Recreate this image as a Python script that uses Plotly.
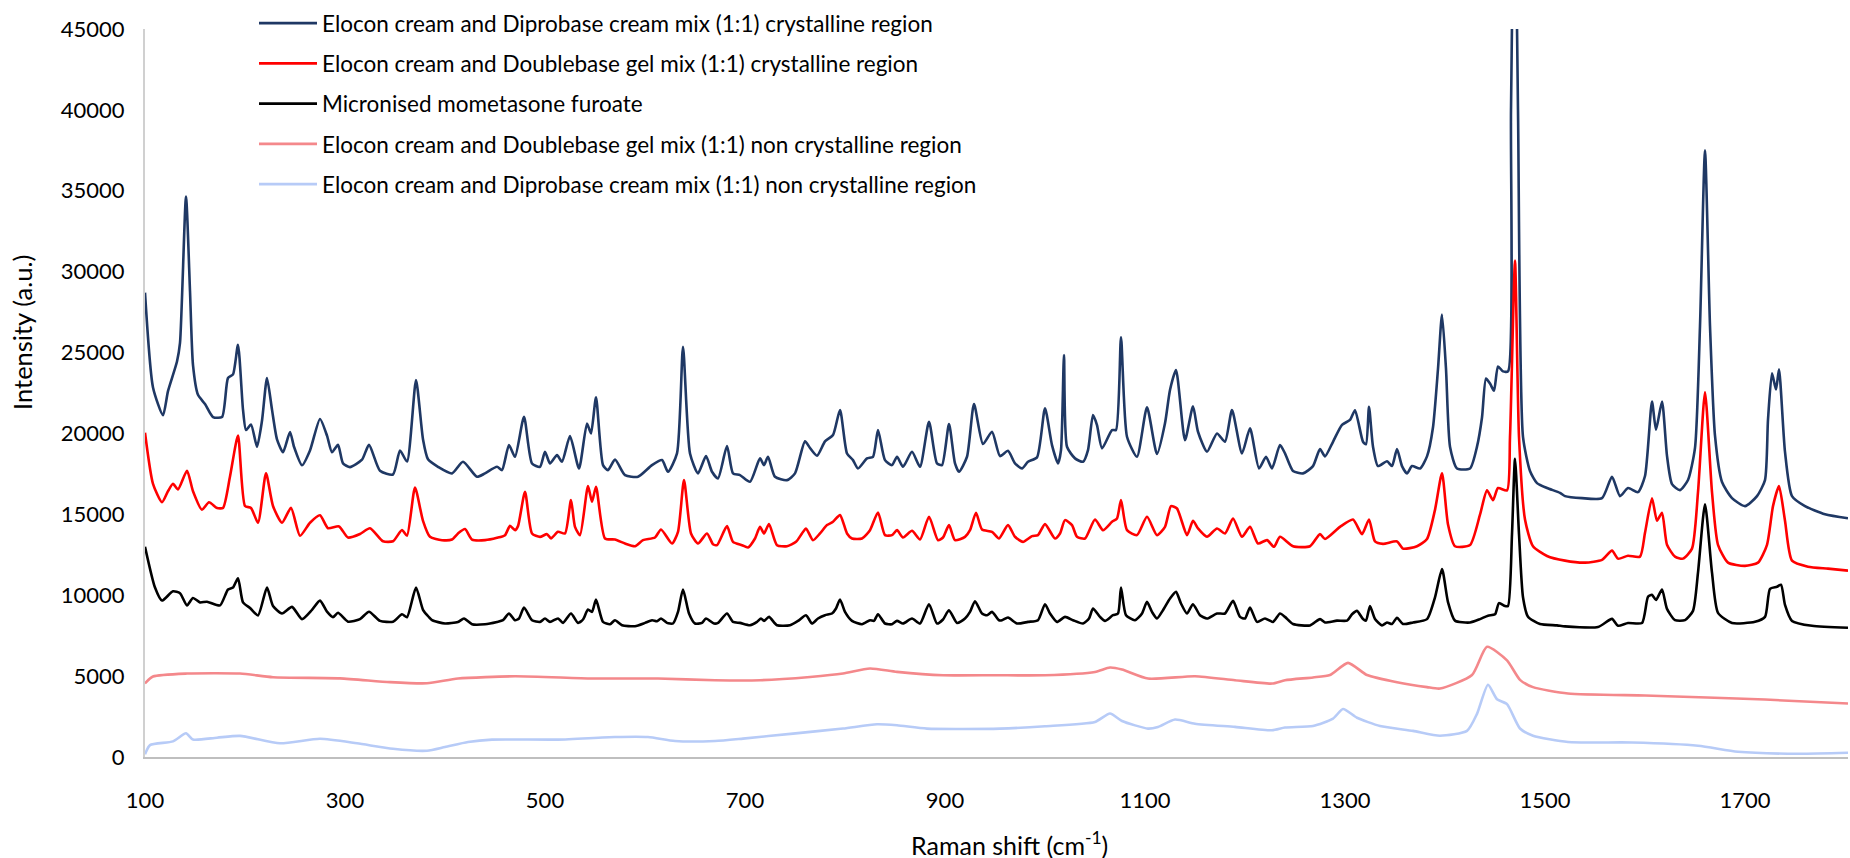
import plotly.graph_objects as go

# ---- Data (Raman shift cm-1, intensity a.u.) ----
navy_x = [100,108,118,123,132,135,141,145,148,153,160,168,177,183,188,193,198,201,206,212,217,222,227,232,238,245,249,257,265,275,282,287,293,298,305,317,324,335,348,355,362,371,378,383,
          393,407,418,432,440,452,457,464,470,479,487,495,500,505,512,517,525,534,542,546,551,558,563,570,580,593,607,617,623,632,638,645,653,661,667,
          673,682,688,695,705,715,719,723,730,742,750,760,765,772,780,788,795,802,808,813,822,828,833,840,847,852,858,867,875,884,892,897,904,910,914,922,929,938,947,
          955,963,970,977,983,992,1000,1007,1013,1016,1019,1022,1030,1038,1043,1048,1052,1057,1067,1071,1076,1082,1092,1102,1112,1120,1125,1131,1140,1148,1153,1162,1172,1180,1187,1197,1205,1214,1221,1227,1235,1240,
          1248,1258,1268,1275,1280,1288,1297,1305,1310,1318,1321,1324,1328,1333,1342,1347,1352,1357,1362,1367,1375,1382,1388,1393,1397,1401,1405,1412,1425,1432,1437,1441,1445,1449,1453,1458,1463,1466,1469.5,1473,1478,1485,1492,1502,1515,
          1520,1537,1557,1567,1575,1583,1593,1600,1607,1611,1617,1622,1627,1635,1643,1650,1655,1660,1665,1670,1677,1687,1700,1712,1720,1723,1727,1731,1734,1740,1747,1760,1780,1803]
navy_y = [28700,22845,21125,22616,24447,25592,34640,28808,24225,22387,21818,21014,21014,23424,23649,25480,21472,20210,20556,19177,20785,23424,21472,19635,18836,20093,19177,18033,18948,20897,19864,18836,19294,18150,17920,18378,19294,17692,17463,18948,18261,23300,19635,18400,
          17939,17531,18249,17321,17531,17939,17735,19282,18558,21032,18146,17939,18868,18146,18661,18249,19838,17838,20619,20000,22230,18043,17735,18394,17426,17321,18043,18352,17631,18764,25363,18764,17531,18601,17631,
          17221,19220,17531,17426,17011,18459,18043,18558,17321,17115,17531,19510,19100,18621,19510,19900,21447,18764,18352,17836,18455,18558,20210,18352,18043,18558,17939,18868,17939,20723,18146,18043,20580,18146,17631,18558,21818,19344,20105,
          18600,18929,18150,17841,18249,18521,21552,19282,18150,18973,24849,19177,18459,18249,18973,21138,20519,19077,20210,20210,25944,19795,18558,21614,18725,20624,22684,23921,19590,21676,20105,18868,20000,19487,21447,18766,20313,17841,18558,17841,19282,18766,
          17680,17531,17983,19034,18583,19486,20532,20835,21435,19486,19330,21645,19183,17983,18280,17983,19034,17983,17531,17983,17835,18583,20383,23990,27349,23990,19183,17835,17835,19183,20983,23389,23086,22635,24138,23835,23835,40000,56000,40000,19783,17680,16931,16628,16328,
          16127,16003,16003,17321,16127,16622,16375,17371,21972,20229,21972,18612,16870,16498,17119,19107,26642,37500,26642,19859,16995,16003,15507,16127,17119,20850,23712,22716,23965,18860,16127,15507,15008,14760]

red_x = [100,108,117,123,128,133,142,148,157,164,172,178,185,193,200,206,213,221,228,237,246,255,265,275,283,294,303,315,325,338,348,357,362,370,378,385,397,407,413,420,427,440,452,460,465,470,473,480,487,495,502,506,513,520,526,530,535,543,547,551,560,570,580,590,598,610,616,627,633,639,646,653,662,668,
         672,682,688,697,703,710,715,719,724,732,742,751,757,761,768,775,782,788,795,802,807,817,825,833,840,847,852,858,867,875,884,893,898,904,910,920,925,931,937,947,954,
         963,970,978,987,993,1000,1010,1015,1020,1027,1032,1040,1050,1058,1067,1072,1076,1082,1092,1102,1112,1120,1126,1132,1142,1148,1153,1162,1172,1180,1188,1197,1205,1213,1222,1229,1235,
         1248,1265,1275,1280,1295,1308,1317,1324,1330,1338,1352,1358,1372,1382,1390,1397,1403,1410,1425,1435,1442,1448,1453,1462,1465,1470,1474,1480,1488,1502,
         1520,1540,1557,1567,1573,1583,1595,1600,1607,1612,1617,1622,1630,1638,1647,1653,1660,1667,1673,1683,1700,1713,1722,1728,1734,1740,1747,1763,1783,1803]
red_y = [20050,16888,15744,16431,16888,16542,17692,16431,15285,15744,15397,15397,17339,19864,15512,15397,14482,17531,15512,14482,15397,13676,14482,14940,14141,14253,13566,13787,14141,13337,13337,14030,13676,16659,14600,13609,13403,13444,13819,14087,13444,13403,13548,13713,14290,14022,14270,16395,13819,13609,13775,13506,13919,13819,15879,14225,13713,16745,15775,16704,13506,13444,13197,13031,13403,13568,14063,13197,13919,17115,13819,13197,13819,13156,
         13094,14270,13300,13094,12949,13506,14225,13819,14395,13094,13031,13300,13819,14128,13403,13819,14333,14539,14952,13819,13506,13506,14022,15115,13713,13713,14022,13568,13981,13444,14848,13403,13568,14333,13403,13609,14022,15094,14063,13919,13506,
         14333,13613,13300,13654,13716,14395,13506,13819,14642,14333,13613,13506,14684,14022,14539,14745,15879,14022,13716,14848,13716,14230,15503,15361,13716,14601,14128,13613,14128,13819,14745,13613,14230,13200,13406,12994,13613,
         13027,13027,13776,13478,14228,14679,13776,14679,13324,13176,13324,12879,13027,13478,15278,17531,14376,13027,13100,14976,16479,15879,16628,16479,19783,30683,19783,14679,13027,12427,
         12138,12014,12188,12757,12262,12436,12386,13860,15998,14607,15101,13118,12386,12262,12882,16370,22550,16370,13118,12014,11816,12014,13118,15507,16746,14607,12138,11766,11643,11519]

black_x = [100,110,117,128,135,142,148,155,162,175,183,188,193,198,205,213,222,228,237,247,257,267,275,282,288,293,303,315,324,335,348,357,362,371,378,384,
           387,400,413,419,427,440,452,458,464,470,474,479,487,495,500,505,513,518,526,533,538,543,547,551,558,565,570,577,590,600,607,612,616,622,628,633,638,644,650,657,661,669,
           673,682,688,695,705,712,716,719,724,732,745,753,761,767,773,780,787,791,795,800,807,817,825,829,833,840,847,852,858,867,875,884,892,898,904,912,920,925,930,937,942,947,954,
           957,963,972,983,993,1000,1005,1012,1020,1028,1038,1044,1048,1055,1060,1068,1073,1076,1081,1090,1097,1102,1107,1112,1118,1125,1131,1136,1142,1148,1155,1162,1172,1180,1188,1195,1200,1205,1212,1220,1228,1235,1240,
           1248,1265,1275,1280,1292,1302,1307,1312,1318,1321,1325,1330,1337,1342,1347,1352,1358,1368,1382,1390,1397,1403,1410,1425,1435,1443,1450,1454,1460,1463,1467,1470,1474,1478,1483,1495,1512,1520,
           1553,1567,1573,1583,1597,1603,1607,1611,1617,1622,1630,1640,1648,1653,1660,1667,1673,1687,1710,1720,1725,1732,1736,1740,1747,1767,1803]
black_y = [13000,10473,9669,10244,10126,9372,9830,9557,9600,9372,10355,10473,11048,9557,9211,8753,10473,9329,8871,9279,8524,9100,9669,8982,8642,8915,8364,8524,8982,8413,8364,8821,8642,10473,9100,8642,
           8456,8252,8351,8561,8209,8209,8351,8456,8871,8456,8561,9242,8456,8351,8561,8351,8561,8289,8871,8289,8499,9118,8970,9737,8351,8209,8456,8147,8085,8289,8456,8394,8561,8289,8252,8970,10355,8871,8252,8289,8561,8252,
           8289,8871,8351,8289,8147,8351,8561,8413,8660,8147,8147,8413,8765,8252,8561,8765,8871,9180,9737,8970,8413,8209,8456,8413,8827,8252,8209,8413,8252,8561,8252,9446,8252,8499,9075,8289,8561,8970,9632,8871,8765,8970,8456,
           8456,8623,8252,8351,8456,9446,8871,8351,8660,8456,8252,8561,9180,8660,8413,8765,8871,10479,8765,8456,8871,9588,8970,8561,9075,9798,10207,9489,8871,9446,8765,8561,8871,8871,9650,8660,8561,9242,8351,8561,8351,8871,8660,
           8221,8135,8524,8314,8431,8431,8821,9032,8524,8431,9335,8524,8135,8314,8221,8611,8221,8314,8524,9873,11617,9576,8431,8314,8524,8735,8821,9514,9335,9335,13776,18434,13776,9873,8673,8221,8135,8073,
           8036,8537,8110,8283,8283,9904,10028,9706,10349,9155,8462,8462,9032,11394,15626,11394,8908,8283,8357,8660,10399,10522,10652,9403,8413,8110,7986]

pink_x = [100,108,142,195,228,295,345,382,413,470,547,613,670,715,765,798,825,852,898,950,1000,1050,1065,1077,1103,1150,1190,1227,1240,1268,1285,1303,1322,1352,1382,1395,1427,1442,1462,1475,1488,1523,1600,1662,1720,1803]
pink_y = [4550,4974,5159,5159,4930,4862,4627,4559,4850,4990,4850,4850,4745,4745,4949,5159,5468,5262,5054,5054,5054,5258,5530,5406,4850,4995,4745,4540,4745,4918,5066,5821,5066,4621,4318,4231,5066,6811,5970,4770,4318,3928,3800,3681,3550,3309]

blue_x = [100,105,128,141,148,172,195,235,275,312,348,382,400,423,447,513,570,603,630,670,698,748,798,832,852,882,955,1000,1050,1065,1077,1103,1113,1130,1150,1190,1227,1240,1268,1288,1298,1312,1335,1368,1395,1422,1432,1443,1452,1462,1475,1488,1523,1587,1653,1693,1753,1803]
blue_y = [167,736,965,1466,1076,1194,1305,847,1126,847,507,390,619,928,1076,1076,1237,1237,990,990,1138,1447,1757,2023,1960,1757,1757,1899,2165,2685,2227,1757,1860,2314,2060,1860,1652,1819,1918,2369,2969,2425,1918,1615,1318,1615,2666,4466,3569,3266,1763,1318,928,897,699,322,198,260]

names = ["Elocon cream and Diprobase cream mix (1:1) crystalline region",
         "Elocon cream and Doublebase gel mix (1:1) crystalline region",
         "Micronised mometasone furoate",
         "Elocon cream and Doublebase gel mix (1:1) non crystalline region",
         "Elocon cream and Diprobase cream mix (1:1) non crystalline region"]
colors = ["#1F3864", "#FF0000", "#000000", "#F4888B", "#B7CBF7"]
x_ticks = [100, 300, 500, 700, 900, 1100, 1300, 1500, 1700]
y_ticks = [0, 5000, 10000, 15000, 20000, 25000, 30000, 35000, 40000, 45000]

series = [(navy_x, navy_y), (red_x, red_y), (black_x, black_y), (pink_x, pink_y), (blue_x, blue_y)]

FONT = "Lato"
FS = 22
fig = go.Figure()
for i, ((xs, ys), nm, c) in enumerate(zip(series, names, colors)):
    fig.add_trace(go.Scatter(x=xs, y=ys, mode="lines", name=nm, legendgroup=f"g{i}",
                             line=dict(color=c, width=2.6, shape="spline", smoothing=0.6)))

W, H = 1850, 858
L, R, T, B = 145, 2, 29.3, 101.3
pw, ph = W - L - R, H - T - B

fig.update_layout(
    width=W, height=H,
    margin=dict(l=L, r=R, t=T, b=B, autoexpand=False),
    paper_bgcolor="white", plot_bgcolor="white",
    font=dict(family=FONT, size=FS, color="#000000"),
    showlegend=True,
    legend=dict(xref="container", yref="container", x=254/W, y=1 - 2/H,
                xanchor="left", yanchor="top", bgcolor="rgba(0,0,0,0)",
                font=dict(family=FONT, size=22.5, color="#000000"),
                tracegroupgap=8, itemwidth=58),
    xaxis=dict(range=[100, 1803], tickvals=x_ticks, ticktext=[str(v) for v in x_ticks],
               showgrid=False, zeroline=False, showline=True, linecolor="#BFBFBF", linewidth=2,
               ticks="", ticklabelstandoff=23, tickfont=dict(family=FONT, size=FS, color="#000000")),
    yaxis=dict(range=[0, 45000], tickvals=y_ticks, ticktext=[str(v) for v in y_ticks],
               showgrid=False, zeroline=False, showline=True, linecolor="#D0D0D0", linewidth=2,
               ticks="", ticklabelstandoff=14, tickfont=dict(family=FONT, size=FS, color="#000000")),
    annotations=[
        dict(text="Intensity (a.u.)", xref="paper", yref="paper",
             x=(22 - L) / pw, y=(756.7 - 333) / ph, showarrow=False, textangle=-90,
             font=dict(family=FONT, size=25.5, color="#000000"), xanchor="center", yanchor="middle"),
        dict(text="Raman shift (cm<sup>-1</sup>)", xref="paper", yref="paper",
             x=(1009 - L) / pw, y=(756.7 - 843) / ph, showarrow=False,
             font=dict(family=FONT, size=25, color="#000000"), xanchor="center", yanchor="middle"),
    ],
)

fig.write_html("out.html")
